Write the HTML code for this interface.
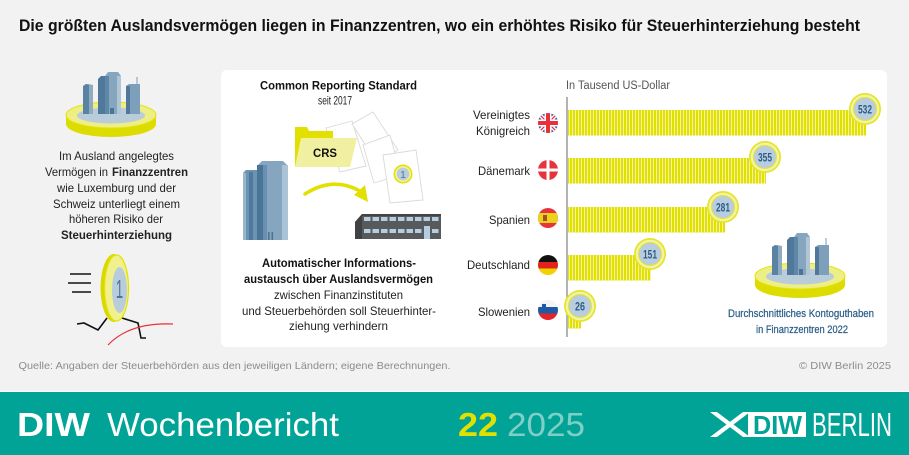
<!DOCTYPE html>
<html><head><meta charset="utf-8">
<style>
html,body{margin:0;padding:0;background:#f2f2f2;}
svg{display:block;}
text{font-family:"Liberation Sans",sans-serif;}
</style></head><body>
<svg width="909" height="455" viewBox="0 0 909 455" xmlns="http://www.w3.org/2000/svg">
<defs>
<pattern id="st" x="0" y="0" width="3" height="10" patternUnits="userSpaceOnUse">
<rect width="3" height="10" fill="#f4f3a4"/><rect width="2" height="10" fill="#e2e000"/>
</pattern>
<clipPath id="cUK"><circle cx="548" cy="123" r="10"/></clipPath>
<clipPath id="cDK"><circle cx="548" cy="170" r="10"/></clipPath>
<clipPath id="cES"><circle cx="548" cy="218" r="10"/></clipPath>
<clipPath id="cDE"><circle cx="548" cy="265" r="10"/></clipPath>
<clipPath id="cSI"><circle cx="548" cy="310" r="10"/></clipPath>
</defs>

<rect x="0" y="0" width="909" height="455" fill="#f2f2f2"/>

<!-- Title -->
<text x="19" y="31" font-size="16.5" font-weight="bold" fill="#111" textLength="841" lengthAdjust="spacingAndGlyphs">Die größten Auslandsvermögen liegen in Finanzzentren, wo ein erhöhtes Risiko für Steuerhinterziehung besteht</text>

<!-- Card -->
<rect x="221" y="70" width="666" height="277" rx="6" fill="#ffffff"/>

<!-- Left city -->
<g id="city">
<ellipse cx="111" cy="124" rx="45" ry="13" fill="#dcdc00"/>
<rect x="66" y="115" width="90" height="9" fill="#dcdc00"/>
<ellipse cx="111" cy="115" rx="45" ry="13" fill="#eeee86" stroke="#e4e400" stroke-width="1"/>
<ellipse cx="111" cy="115.5" rx="34" ry="8" fill="#b9ccda"/>
<polygon points="83,86 86,84 93,85 93,114 83,114" fill="#5a82a3"/>
<rect x="89" y="85" width="4" height="29" fill="#8fabc2"/>
<polygon points="98,79 101,76 107,76 107,114 98,114" fill="#4f789b"/>
<polygon points="105,76 108,72 118,72 121,76 121,114 105,114" fill="#86a5be"/>
<rect x="105" y="76" width="4" height="38" fill="#5f87a8"/>
<rect x="117" y="76" width="4" height="38" fill="#b0c5d6"/>
<rect x="110" y="108" width="4" height="6" fill="#4b7597"/>
<polygon points="126,86 129,84 140,84 140,114 126,114" fill="#7e9fba"/>
<rect x="126" y="86" width="4" height="28" fill="#4f789b"/>
<rect x="136.5" y="77" width="1" height="8" fill="#7e9fba"/>
</g>

<!-- Left text -->
<g font-size="11.8" fill="#222">
<text x="116.5" y="160" text-anchor="middle" textLength="115" lengthAdjust="spacingAndGlyphs">Im Ausland angelegtes</text>
<text x="45" y="176" textLength="63" lengthAdjust="spacingAndGlyphs">Vermögen in</text>
<text x="112" y="176" font-weight="bold" textLength="76" lengthAdjust="spacingAndGlyphs">Finanzzentren</text>
<text x="116.5" y="192" text-anchor="middle" textLength="119" lengthAdjust="spacingAndGlyphs">wie Luxemburg und der</text>
<text x="116.5" y="208" text-anchor="middle" textLength="127" lengthAdjust="spacingAndGlyphs">Schweiz unterliegt einem</text>
<text x="116" y="223" text-anchor="middle" textLength="94" lengthAdjust="spacingAndGlyphs">höheren Risiko der</text>
<text x="116.5" y="239" text-anchor="middle" font-weight="bold" textLength="111" lengthAdjust="spacingAndGlyphs">Steuerhinterziehung</text>
</g>

<!-- Running coin -->
<g stroke="#111" stroke-width="1.6" fill="none">
<line x1="70" y1="274" x2="91" y2="274"/>
<line x1="68" y1="283" x2="91" y2="283"/>
<line x1="72" y1="292" x2="91" y2="292"/>
<polyline points="107,318 98,330 84,323 77,324"/>
<polyline points="122,318 138,323 141,338 146,338"/>
</g>
<path d="M108,345 Q130,322 173,324" stroke="#e8303a" stroke-width="1.2" fill="none"/>
<ellipse cx="114" cy="288" rx="13.5" ry="34" fill="#d9d900"/>
<ellipse cx="116.5" cy="288" rx="12" ry="33" fill="#f0f08c" stroke="#e2e200" stroke-width="1.2"/>
<ellipse cx="119.5" cy="290" rx="7.5" ry="23" fill="#b9ccdb"/>
<text transform="translate(119.5,298) scale(0.5,1)" x="0" y="0" font-size="26" fill="#4d7596" text-anchor="middle">1</text>

<!-- Middle card header -->
<text x="338.5" y="89.5" font-size="11.8" font-weight="bold" fill="#111" text-anchor="middle" textLength="157" lengthAdjust="spacingAndGlyphs">Common Reporting Standard</text>
<text x="335" y="104.5" font-size="11.8" fill="#222" text-anchor="middle" textLength="34" lengthAdjust="spacingAndGlyphs">seit 2017</text>

<!-- Papers -->
<g fill="#ffffff" stroke="#d9d9d9" stroke-width="0.9">
<polygon points="326,128 352,121 366,166 340,172"/>
<polygon points="352,124 373,112 398,150 377,163"/>
<polygon points="363,145 390,135 401,175 374,183"/>
</g>
<!-- Folder -->
<polygon points="295,127 307,127 309,131 333,131 333,167 295,167" fill="#e2e000"/>
<polygon points="301,138 357,138 350,167 295,167" fill="#f1f0a0"/>
<text x="313" y="157" font-size="12" font-weight="bold" fill="#111" textLength="24" lengthAdjust="spacingAndGlyphs">CRS</text>
<polygon points="383,155 416,150 423,200 390,203" fill="#ffffff" stroke="#d9d9d9" stroke-width="0.9"/>
<circle cx="403" cy="174" r="9.5" fill="#e2e200"/>
<circle cx="403" cy="174" r="8" fill="#f0f09a"/>
<circle cx="403" cy="174" r="6.3" fill="#b9ccdb"/>
<text x="403" y="178" font-size="10" fill="#4d7596" text-anchor="middle">1</text>

<!-- Arrow -->
<path d="M305,194 Q333,176 360,191" stroke="#e2e000" stroke-width="3.5" fill="none" stroke-linecap="round"/>
<polygon points="354,195 365,185 368,202" fill="#e2e000"/>

<!-- Tall building -->
<polygon points="243,173 246,170 257,170 257,240 243,240" fill="#6b93b3"/>
<rect x="243" y="173" width="3" height="67" fill="#9ab6cc"/>
<rect x="249" y="172" width="4" height="68" fill="#4f7a9d"/>
<polygon points="257,166 262,161 283,161 288,166 288,240 257,240" fill="#86a6bf"/>
<rect x="257" y="165" width="6" height="75" fill="#4a7597"/>
<rect x="263" y="165" width="4" height="75" fill="#6990b0"/>
<rect x="282" y="165" width="6" height="75" fill="#aac3d6"/>
<rect x="268" y="232" width="1.6" height="8" fill="#4a7597"/>
<rect x="271.5" y="232" width="1.6" height="8" fill="#4a7597"/>

<!-- Government building -->
<polygon points="355,222 362,214 441,214 441,239 355,239" fill="#58595b"/>
<polygon points="355,222 362,214 362,239 355,239" fill="#3f4143"/>
<rect x="362" y="214" width="79" height="2" fill="#444"/>
<g fill="#b5cde0">
<rect x="364" y="217" width="6.5" height="4"/><rect x="372.5" y="217" width="6.5" height="4"/><rect x="381" y="217" width="6.5" height="4"/><rect x="389.5" y="217" width="6.5" height="4"/><rect x="398" y="217" width="6.5" height="4"/><rect x="406.5" y="217" width="6.5" height="4"/><rect x="415" y="217" width="6.5" height="4"/><rect x="423.5" y="217" width="6.5" height="4"/><rect x="432" y="217" width="6.5" height="4"/>
<rect x="364" y="229" width="6.5" height="4"/><rect x="372.5" y="229" width="6.5" height="4"/><rect x="381" y="229" width="6.5" height="4"/><rect x="389.5" y="229" width="6.5" height="4"/><rect x="398" y="229" width="6.5" height="4"/><rect x="406.5" y="229" width="6.5" height="4"/><rect x="415" y="229" width="6.5" height="4"/><rect x="432" y="229" width="6.5" height="4"/>
<rect x="424" y="226" width="6" height="13"/>
</g>

<!-- Middle bottom text -->
<g font-size="11.8" fill="#222" text-anchor="middle">
<text x="339" y="267" font-weight="bold" fill="#111" textLength="154" lengthAdjust="spacingAndGlyphs">Automatischer Informations-</text>
<text x="338.5" y="283" font-weight="bold" fill="#111" textLength="189" lengthAdjust="spacingAndGlyphs">austausch über Auslandsvermögen</text>
<text x="338.5" y="299" textLength="129" lengthAdjust="spacingAndGlyphs">zwischen Finanzinstituten</text>
<text x="339" y="315" textLength="194" lengthAdjust="spacingAndGlyphs">und Steuerbehörden soll Steuerhinter-</text>
<text x="338.5" y="330" textLength="99" lengthAdjust="spacingAndGlyphs">ziehung verhindern</text>
</g>

<!-- Chart -->
<text x="566" y="89" font-size="11.5" fill="#555" textLength="104" lengthAdjust="spacingAndGlyphs">In Tausend US-Dollar</text>

<g font-size="11.8" fill="#222" text-anchor="end">
<text x="530" y="119" textLength="57" lengthAdjust="spacingAndGlyphs">Vereinigtes</text>
<text x="530" y="135" textLength="54" lengthAdjust="spacingAndGlyphs">Königreich</text>
<text x="530" y="175" textLength="52" lengthAdjust="spacingAndGlyphs">Dänemark</text>
<text x="530" y="224" textLength="41" lengthAdjust="spacingAndGlyphs">Spanien</text>
<text x="530" y="269" textLength="63" lengthAdjust="spacingAndGlyphs">Deutschland</text>
<text x="530" y="316" textLength="52" lengthAdjust="spacingAndGlyphs">Slowenien</text>
</g>

<!-- Flags -->
<g clip-path="url(#cUK)">
<rect x="538" y="113" width="20" height="20" fill="#2b4f9c"/>
<line x1="538" y1="113" x2="558" y2="133" stroke="#fff" stroke-width="4"/>
<line x1="558" y1="113" x2="538" y2="133" stroke="#fff" stroke-width="4"/>
<line x1="538" y1="113" x2="558" y2="133" stroke="#e8303a" stroke-width="1.3"/>
<line x1="558" y1="113" x2="538" y2="133" stroke="#e8303a" stroke-width="1.3"/>
<rect x="538" y="119.5" width="20" height="7" fill="#fff"/>
<rect x="544.5" y="113" width="7" height="20" fill="#fff"/>
<rect x="538" y="121" width="20" height="4" fill="#e8303a"/>
<rect x="546" y="113" width="4" height="20" fill="#e8303a"/>
</g>
<g clip-path="url(#cDK)">
<rect x="538" y="160" width="20" height="20" fill="#e8323c"/>
<rect x="546.5" y="160" width="3" height="20" fill="#fff"/>
<rect x="538" y="168.5" width="20" height="3" fill="#fff"/>
</g>
<g clip-path="url(#cES)">
<rect x="538" y="208" width="20" height="20" fill="#e8323c"/>
<rect x="538" y="213" width="20" height="10" fill="#ecd21a"/>
<rect x="543" y="215" width="4" height="6" fill="#a0522d"/>
</g>
<g clip-path="url(#cDE)">
<rect x="538" y="255" width="20" height="7" fill="#111"/>
<rect x="538" y="262" width="20" height="6.5" fill="#e2231a"/>
<rect x="538" y="268.5" width="20" height="7" fill="#f2d100"/>
</g>
<g clip-path="url(#cSI)">
<rect x="538" y="300" width="20" height="7" fill="#f4f4f4"/>
<rect x="538" y="307" width="20" height="6.5" fill="#1f5aa6"/>
<rect x="538" y="313.5" width="20" height="7" fill="#e3242b"/>
<rect x="542" y="304" width="4" height="5" fill="#1f5aa6"/>
</g>

<!-- Bars -->
<rect x="568" y="110" width="298" height="25.5" fill="url(#st)"/>
<rect x="568" y="158" width="198" height="25.5" fill="url(#st)"/>
<rect x="568" y="207" width="157" height="25.5" fill="url(#st)"/>
<rect x="568" y="255" width="83" height="25.5" fill="url(#st)"/>
<rect x="568" y="303" width="13" height="25.5" fill="url(#st)"/>

<line x1="567" y1="97" x2="567" y2="337" stroke="#9a9a9a" stroke-width="1.5"/>

<!-- Badges -->
<g>
<circle cx="865" cy="109" r="16" fill="#e4e42a"/>
<circle cx="865" cy="109" r="14.3" fill="#f3f3a6"/>
<circle cx="865" cy="109" r="11.5" fill="#b9cde0" stroke="#e4e42a" stroke-width="1"/>
<circle cx="765" cy="157" r="16" fill="#e4e42a"/>
<circle cx="765" cy="157" r="14.3" fill="#f3f3a6"/>
<circle cx="765" cy="157" r="11.5" fill="#b9cde0" stroke="#e4e42a" stroke-width="1"/>
<circle cx="723" cy="207" r="16" fill="#e4e42a"/>
<circle cx="723" cy="207" r="14.3" fill="#f3f3a6"/>
<circle cx="723" cy="207" r="11.5" fill="#b9cde0" stroke="#e4e42a" stroke-width="1"/>
<circle cx="650" cy="254" r="16" fill="#e4e42a"/>
<circle cx="650" cy="254" r="14.3" fill="#f3f3a6"/>
<circle cx="650" cy="254" r="11.5" fill="#b9cde0" stroke="#e4e42a" stroke-width="1"/>
<circle cx="580" cy="306" r="16" fill="#e4e42a"/>
<circle cx="580" cy="306" r="14.3" fill="#f3f3a6"/>
<circle cx="580" cy="306" r="11.5" fill="#b9cde0" stroke="#e4e42a" stroke-width="1"/>
</g>
<g font-size="12" font-weight="bold" fill="#2e5d86" text-anchor="middle">
<text x="865" y="113.5" textLength="14" lengthAdjust="spacingAndGlyphs">532</text>
<text x="765" y="161.5" textLength="14" lengthAdjust="spacingAndGlyphs">355</text>
<text x="723" y="211.5" textLength="14" lengthAdjust="spacingAndGlyphs">281</text>
<text x="650" y="258.5" textLength="14" lengthAdjust="spacingAndGlyphs">151</text>
<text x="580" y="310.5" textLength="10" lengthAdjust="spacingAndGlyphs">26</text>
</g>

<!-- Right city -->
<use href="#city" transform="translate(689,161)"/>
<g font-size="11" fill="#2d6089" stroke="#2d6089" stroke-width="0.25" text-anchor="middle">
<text x="801" y="317" textLength="146" lengthAdjust="spacingAndGlyphs">Durchschnittliches Kontoguthaben</text>
<text x="802" y="333" textLength="92" lengthAdjust="spacingAndGlyphs">in Finanzzentren 2022</text>
</g>

<!-- Source -->
<text x="18.5" y="369" font-size="10.5" fill="#8c8c8c" textLength="432" lengthAdjust="spacingAndGlyphs">Quelle: Angaben der Steuerbehörden aus den jeweiligen Ländern; eigene Berechnungen.</text>
<text x="891" y="369" font-size="10.5" fill="#8c8c8c" text-anchor="end" textLength="92" lengthAdjust="spacingAndGlyphs">© DIW Berlin 2025</text>

<!-- Footer -->
<rect x="0" y="391" width="909" height="1" fill="#ffffff"/>
<rect x="0" y="392" width="909" height="63" fill="#00a396"/>
<text x="17" y="436" font-size="33" font-weight="bold" fill="#ffffff" textLength="73" lengthAdjust="spacingAndGlyphs">DIW</text>
<text x="107" y="436" font-size="33" fill="#ffffff" textLength="232" lengthAdjust="spacingAndGlyphs">Wochenbericht</text>
<text x="458" y="436" font-size="33" font-weight="bold" fill="#e2e000" textLength="40" lengthAdjust="spacingAndGlyphs">22</text>
<text x="507" y="436" font-size="33" fill="#80cfc6" textLength="78" lengthAdjust="spacingAndGlyphs">2025</text>

<!-- DIW Berlin logo -->
<polygon points="710,412 717,412 750,437 743,437" fill="#ffffff"/>
<polygon points="710,437 717,437 750,412 743,412" fill="#ffffff"/>
<rect x="748" y="412" width="58" height="25" fill="#ffffff"/>
<text x="753" y="434" font-size="26" font-weight="bold" fill="#00a396" textLength="49" lengthAdjust="spacingAndGlyphs">DIW</text>
<text x="812" y="436" font-size="33" fill="#ffffff" textLength="80" lengthAdjust="spacingAndGlyphs">BERLIN</text>
</svg>
</body></html>
